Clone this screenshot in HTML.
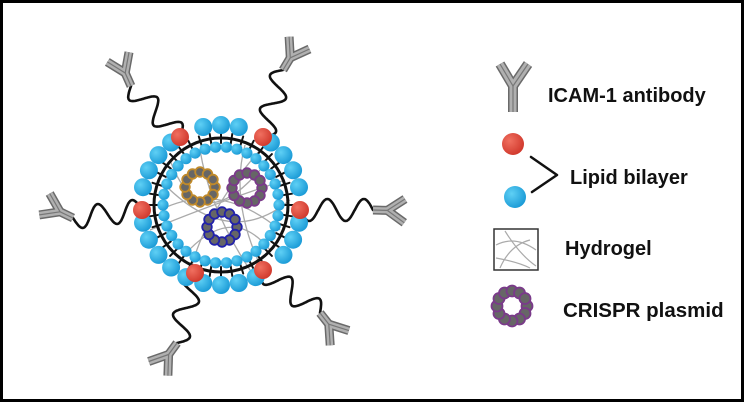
<!DOCTYPE html>
<html><head><meta charset="utf-8"><style>
html,body{margin:0;padding:0;background:#fff}
svg{display:block}
text{font-family:"Liberation Sans",sans-serif;font-weight:bold;fill:#111}
</style></head><body>
<svg id="s" width="744" height="402" viewBox="0 0 744 402" xmlns="http://www.w3.org/2000/svg">
<defs>
<radialGradient id="gb" cx="0.35" cy="0.35" r="0.7"><stop offset="0" stop-color="#5fd0f5"/><stop offset="1" stop-color="#1a9ad6"/></radialGradient>
<radialGradient id="gr" cx="0.35" cy="0.35" r="0.7"><stop offset="0" stop-color="#f07060"/><stop offset="1" stop-color="#d0382c"/></radialGradient>
</defs>
<rect x="1.5" y="1.5" width="741" height="399" fill="#fff" stroke="#000" stroke-width="3"/>
<g id="g"></g>
<text x="548" y="102" font-size="20">ICAM-1 antibody</text>
<text x="570" y="184" font-size="20">Lipid bilayer</text>
<text x="565" y="255" font-size="20">Hydrogel</text>
<text x="563" y="317" font-size="20.5">CRISPR plasmid</text>
</svg>
<script>
var g=document.getElementById('g'),h='';
function c(x,y,r,f,s,sw){h+='<circle cx="'+x.toFixed(1)+'" cy="'+y.toFixed(1)+'" r="'+r+'" fill="'+f+'"'+(s?' stroke="'+s+'" stroke-width="'+sw+'"':'')+'/>';}
function ln(pts,s,w,cap){h+='<polyline points="'+pts.map(p=>p[0].toFixed(1)+','+p[1].toFixed(1)).join(' ')+'" fill="none" stroke="'+s+'" stroke-width="'+w+'" stroke-linecap="'+(cap||'round')+'" stroke-linejoin="round"/>';}
function ab(bx,by,mx,my,L){var dx=mx-bx,dy=my-by,d=Math.hypot(dx,dy);dx/=d;dy/=d;var px=-dy,py=dx;
 var fx=bx+dx*L*0.42,fy=by+dy*L*0.42,al=L*0.62,ca=Math.cos(0.6),sa=Math.sin(0.6);
 var a1=[fx+(dx*ca+px*sa)*al,fy+(dy*ca+py*sa)*al],a2=[fx+(dx*ca-px*sa)*al,fy+(dy*ca-py*sa)*al];
 var segs=[[[bx,by],[fx,fy]],[[fx,fy],a1],[[fx,fy],a2]];
 segs.forEach(s=>ln(s,'#6a6a6a',9,'butt'));segs.forEach(s=>ln(s,'#b0b0b0',6,'butt'));segs.forEach(s=>ln(s,'#777',1.2,'butt'));}
function wave(x0,y0,x1,y1,n,amp){var dx=x1-x0,dy=y1-y0,d=Math.hypot(dx,dy),px=-dy/d,py=dx/d,p=[];
 for(var i=0;i<=120;i++){var t=i/120,a=amp*Math.sin(t*n*2*Math.PI);p.push([x0+dx*t+px*a,y0+dy*t+py*a]);}ln(p,'#111',2.6);}
var CX=221,CY=205;
var hp=[[170,160,200,240,260,170],[160,210,220,180,280,230],[180,260,230,200,270,250],[200,150,210,210,250,270],[245,145,230,200,260,265],[165,185,230,250,290,200],[190,275,200,220,260,150],[150,230,210,205,285,180]];
hp.forEach(q=>{h+='<path d="M'+q[0]+' '+q[1]+' Q'+q[2]+' '+q[3]+' '+q[4]+' '+q[5]+'" fill="none" stroke="#aaa" stroke-width="1.3"/>';});
var T=[[180,137,131,86,115,50],[263,137,283,70,301,40],[142,210,73,218,42,203],[300,210,373,210,410,211],[195,273,177,343,155,373],[263,270,320,313,342,341]];
T.forEach(t=>{wave(t[0],t[1],t[2],t[3],2,11);ab(t[2],t[3],t[4],t[5],34);});
for(var i=0;i<40;i++){var a=i/40*2*Math.PI;ln([[CX+62*Math.cos(a),CY+62*Math.sin(a)],[CX+72*Math.cos(a),CY+72*Math.sin(a)]],'#111',2);}
for(var i=0;i<34;i++){var a=i/34*2*Math.PI;c(CX+58*Math.cos(a),CY+58*Math.sin(a),5.6,'url(#gb)');}
h+='<circle cx="'+CX+'" cy="'+CY+'" r="67" fill="none" stroke="#111" stroke-width="3"/>';
var reds=[[180,137],[263,137],[142,210],[300,210],[195,273],[263,270]];
for(var i=0;i<28;i++){var a=i/28*2*Math.PI,x=CX+80*Math.cos(a),y=CY+80*Math.sin(a);
 if(reds.some(r=>Math.hypot(r[0]-x,r[1]-y)<9))continue;c(x,y,9,'url(#gb)');}
reds.forEach(r=>c(r[0],r[1],9,'url(#gr)'));
function pl(x,y,col,R,br){for(var i=0;i<12;i++){var a=i/12*2*Math.PI;c(x+R*Math.cos(a),y+R*Math.sin(a),br,'#666',col,1.8);}}
pl(200,187,'#c08a2a',15,4.8);pl(247,188,'#7a3a8a',15,4.8);pl(222,227,'#2222aa',15,4.8);
[[[513,112],[513,86]],[[513,86],[500,64]],[[513,86],[528,64]]].forEach(s=>ln(s,'#6a6a6a',10,'butt'));
[[[513,112],[513,86]],[[513,86],[500,64]],[[513,86],[528,64]]].forEach(s=>ln(s,'#b0b0b0',7,'butt'));
[[[513,112],[513,86]],[[513,86],[500,64]],[[513,86],[528,64]]].forEach(s=>ln(s,'#777',1.2,'butt'));
c(513,144,11,'url(#gr)');c(515,197,11,'url(#gb)');
ln([[531,157],[557,175],[532,192]],'#111',2.5);
h+='<rect x="494" y="229" width="44" height="41" fill="#fff" stroke="#333" stroke-width="1.5"/>';
[[496,245,515,235,536,250],[500,268,510,245,530,240],[505,231,520,255,536,266],[496,258,518,262,530,268]].forEach(q=>{h+='<path d="M'+q[0]+' '+q[1]+' Q'+q[2]+' '+q[3]+' '+q[4]+' '+q[5]+'" fill="none" stroke="#aaa" stroke-width="1.2"/>';});
pl(512,306,'#7a3a8a',15,5.5);
g.innerHTML=h;
</script>
</body></html>
